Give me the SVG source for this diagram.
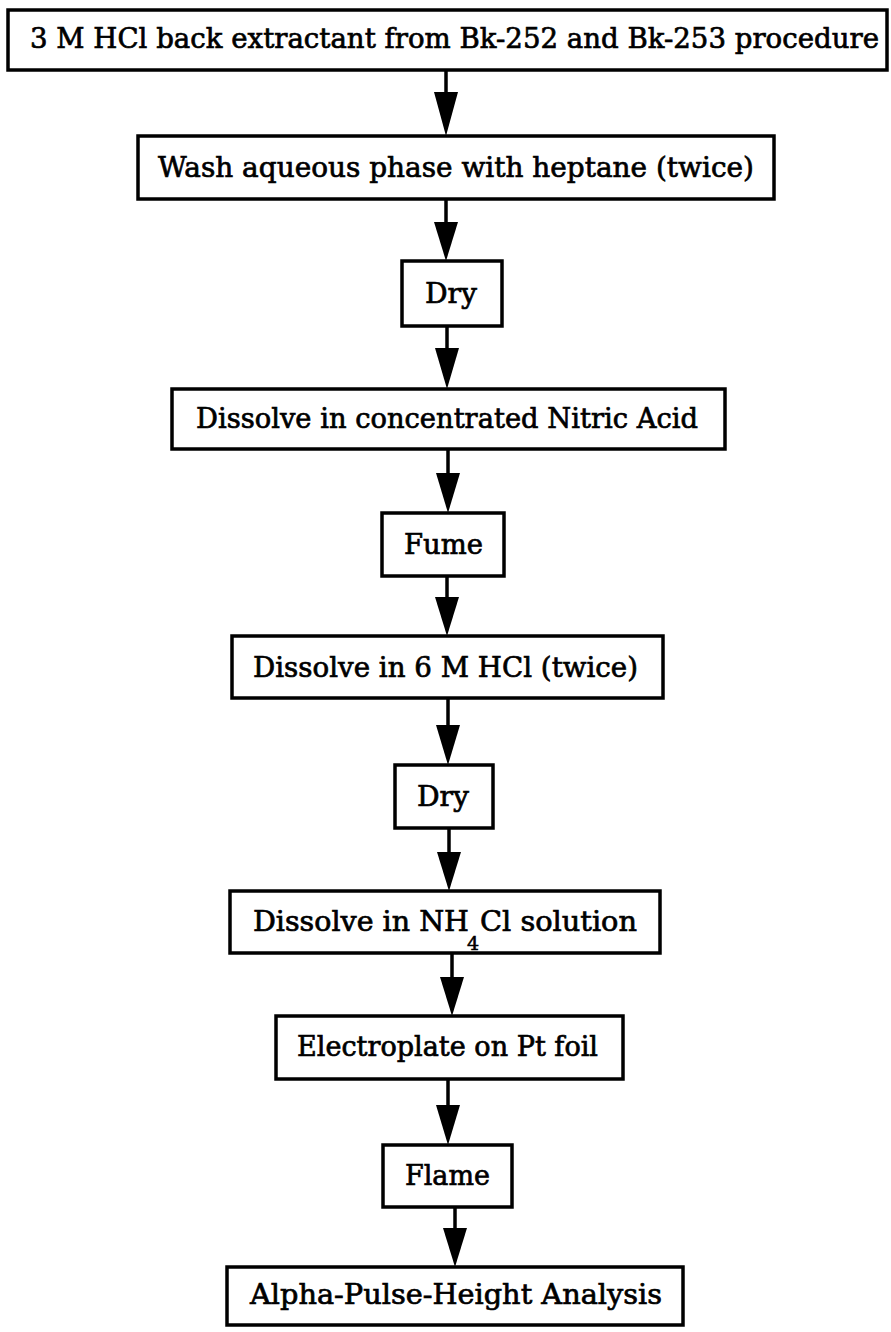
<svg xmlns="http://www.w3.org/2000/svg" width="891" height="1332" viewBox="0 0 891 1332">
<defs>
<style>
.box{fill:#fff;stroke:#000;stroke-width:3.5}
.lbl{font-family:"DejaVu Serif","Liberation Serif",serif;font-size:28px;fill:#000;stroke:#000;stroke-width:0.7}
.sub{font-family:"DejaVu Serif","Liberation Serif",serif;font-size:19px;fill:#000;stroke:#000;stroke-width:0.6}
.ln{stroke:#000;stroke-width:3.5;fill:none}
.hd{fill:#000;stroke:none}
</style>
</defs>
<rect width="891" height="1332" fill="#fff"/>
<g id="connectors">
<line class="ln" x1="446" y1="70" x2="446" y2="100"/><polygon class="hd" points="434,92 458,92 446,136"/>
<line class="ln" x1="446" y1="199" x2="446" y2="230"/><polygon class="hd" points="434,222 458,222 446,261"/>
<line class="ln" x1="447" y1="326" x2="447" y2="356"/><polygon class="hd" points="435,348 459,348 447,389"/>
<line class="ln" x1="448" y1="449" x2="448" y2="480"/><polygon class="hd" points="436,473 460,473 448,513"/>
<line class="ln" x1="447" y1="576" x2="447" y2="605"/><polygon class="hd" points="435,597 459,597 447,636"/>
<line class="ln" x1="448" y1="698" x2="448" y2="732"/><polygon class="hd" points="436,725 460,725 448,765"/>
<line class="ln" x1="449" y1="828" x2="449" y2="860"/><polygon class="hd" points="437,852 461,852 449,891"/>
<line class="ln" x1="452" y1="953" x2="452" y2="985"/><polygon class="hd" points="440,977 464,977 452,1016"/>
<line class="ln" x1="448" y1="1079" x2="448" y2="1112"/><polygon class="hd" points="436,1105 460,1105 448,1145"/>
<line class="ln" x1="455" y1="1207" x2="455" y2="1236"/><polygon class="hd" points="443,1228 467,1228 455,1267"/>
</g>
<g id="n1"><rect class="box" x="8" y="10" width="879" height="60"/><text class="lbl" x="30" y="48" textLength="849" lengthAdjust="spacingAndGlyphs">3 M HCl back extractant from Bk-252 and Bk-253 procedure</text></g>
<g id="n2"><rect class="box" x="138" y="136" width="636" height="63"/><text class="lbl" x="158" y="177" textLength="596" lengthAdjust="spacingAndGlyphs">Wash aqueous phase with heptane (twice)</text></g>
<g id="n3"><rect class="box" x="402" y="261" width="100" height="65"/><text class="lbl" x="425" y="303" textLength="52" lengthAdjust="spacingAndGlyphs">Dry</text></g>
<g id="n4"><rect class="box" x="172" y="389" width="553" height="60"/><text class="lbl" x="196" y="428" textLength="502" lengthAdjust="spacingAndGlyphs">Dissolve in concentrated Nitric Acid</text></g>
<g id="n5"><rect class="box" x="382" y="513" width="122" height="63"/><text class="lbl" x="404" y="554" textLength="79" lengthAdjust="spacingAndGlyphs">Fume</text></g>
<g id="n6"><rect class="box" x="232" y="636" width="431" height="62"/><text class="lbl" x="253" y="677" textLength="385" lengthAdjust="spacingAndGlyphs">Dissolve in 6 M HCl (twice)</text></g>
<g id="n7"><rect class="box" x="395" y="765" width="98" height="63"/><text class="lbl" x="417" y="806" textLength="52" lengthAdjust="spacingAndGlyphs">Dry</text></g>
<g id="n8"><rect class="box" x="230" y="891" width="430" height="62"/><text class="lbl" x="253" y="931" textLength="216" lengthAdjust="spacingAndGlyphs">Dissolve in NH</text><text class="sub" x="467" y="950">4</text><text class="lbl" x="480" y="931" textLength="157" lengthAdjust="spacingAndGlyphs">Cl solution</text></g>
<g id="n9"><rect class="box" x="276" y="1016" width="347" height="63"/><text class="lbl" x="297" y="1056" textLength="301" lengthAdjust="spacingAndGlyphs">Electroplate on Pt foil</text></g>
<g id="n10"><rect class="box" x="383" y="1145" width="129" height="62"/><text class="lbl" x="405" y="1185" textLength="85" lengthAdjust="spacingAndGlyphs">Flame</text></g>
<g id="n11"><rect class="box" x="227" y="1267" width="456" height="58"/><text class="lbl" x="250" y="1304" textLength="412" lengthAdjust="spacingAndGlyphs">Alpha-Pulse-Height Analysis</text></g>
</svg>
